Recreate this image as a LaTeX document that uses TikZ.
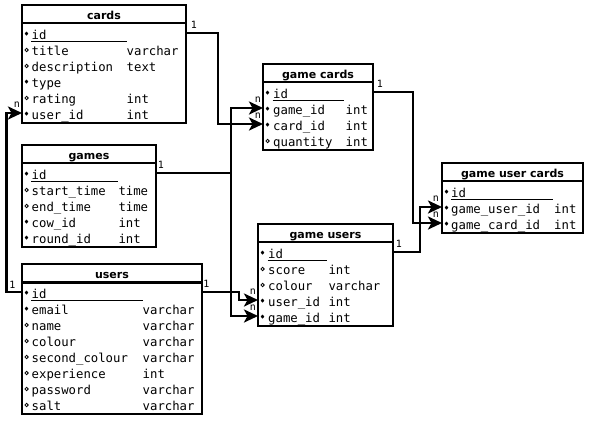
\documentclass[tikz,border=0pt]{standalone}
\usepackage{fontspec}
\usetikzlibrary{arrows.meta}
\newfontfamily\monof{DejaVu Sans Mono}
\newfontfamily\ttlfont{DejaVu Sans}
\tikzset{
  tbl/.style={draw, line width=2.6pt, anchor=north west, inner sep=0pt, outer sep=0pt},
  sepline/.style={line width=2.2pt},
  uline/.style={line width=1.4pt},
  fld/.style={font=\monof\fontsize{12.3}{14}\selectfont, anchor=base west, inner sep=0pt},
  ttl/.style={font=\ttlfont\bfseries\fontsize{11}{12}\selectfont, anchor=base, inner sep=0pt},
  card/.style={font=\monof\fontsize{10}{11}\selectfont, inner sep=0pt},
  conn/.style={line width=2.6pt},
  arr/.style={conn, -{Stealth[length=14pt,width=13pt,inset=3.5pt]}},
}
% #1 name, #2 k/o, #3 left x, #4 line y, #5 name x, #6 field, #7 type x, #8 type
\newcommand\erfield[8]{%
  \ifx k#2\relax
    \fill (#3+4.5,#4+0.6) +(0,-2.1) -- +(1.8,0) -- +(0,2.1) -- +(-1.8,0) -- cycle;
  \else
    \draw[line width=0.8pt] (#3+4.6,#4+1) circle (1.7);
  \fi
  \node[fld] (#1) at (#5,#4+6) {#6};
  \if\relax\detokenize{#8}\relax\else
    \node[fld] (#1-t) at (#7,#4+6) {#8};
  \fi
}
\begin{document}
\begin{tikzpicture}[x=1pt,y=-1pt]
\useasboundingbox (0,0) rectangle (592,421);
\fill[white] (0,0) rectangle (592,421);

% ---------- cards ----------
\node[tbl, minimum width=164pt, minimum height=118pt] (cards) at (22,5) {};
\draw[sepline] (22,23) -- (186,23);
\node[ttl] (cards-title) at (104,19.5) {cards};
\erfield{cards-id}{k}{22}{33}{31.5}{id}{126.5}{}
\draw[uline] (31,41.5) -- (126.5,41.5);
\erfield{cards-ti}{o}{22}{49}{31.5}{title}{126.5}{varchar}
\erfield{cards-de}{o}{22}{65}{31.5}{description}{126.5}{text}
\erfield{cards-ty}{k}{22}{81}{31.5}{type}{126.5}{}
\erfield{cards-ra}{o}{22}{97}{31.5}{rating}{126.5}{int}
\erfield{cards-us}{k}{22}{113}{31.5}{user\_id}{126.5}{int}
\coordinate (cards-id-R) at (186,33);
\coordinate (cards-user-L) at (22,113);

% ---------- games ----------
\node[tbl, minimum width=134pt, minimum height=102pt] (games) at (22,145) {};
\draw[sepline] (22,163) -- (156,163);
\node[ttl] (games-title) at (89,159.5) {games};
\erfield{games-id}{k}{22}{173}{31.5}{id}{118.3}{}
\draw[uline] (31,181.5) -- (118.3,181.5);
\erfield{games-st}{o}{22}{189}{31.5}{start\_time}{118.3}{time}
\erfield{games-en}{o}{22}{205}{31.5}{end\_time}{118.3}{time}
\erfield{games-co}{k}{22}{221}{31.5}{cow\_id}{118.3}{int}
\erfield{games-ro}{k}{22}{237}{31.5}{round\_id}{118.3}{int}
\coordinate (games-id-R) at (156,173);

% ---------- users ----------
\node[tbl, minimum width=180pt, minimum height=150pt] (users) at (22,264) {};
\draw[sepline] (22,282.5) -- (202,282.5);
\node[ttl] (users-title) at (112,278.5) {users};
\erfield{users-id}{k}{22}{292}{31.5}{id}{142.5}{}
\draw[uline] (31,300.5) -- (142.5,300.5);
\erfield{users-em}{k}{22}{308}{31.5}{email}{142.5}{varchar}
\erfield{users-na}{o}{22}{324}{31.5}{name}{142.5}{varchar}
\erfield{users-co}{o}{22}{340}{31.5}{colour}{142.5}{varchar}
\erfield{users-sc}{o}{22}{356}{31.5}{second\_colour}{142.5}{varchar}
\erfield{users-ex}{o}{22}{372}{31.5}{experience}{142.5}{int}
\erfield{users-pa}{o}{22}{388}{31.5}{password}{142.5}{varchar}
\erfield{users-sa}{o}{22}{404}{31.5}{salt}{142.5}{varchar}
\coordinate (users-id-R) at (202,292);
\coordinate (users-id-L) at (22,292);

% ---------- game cards ----------
\node[tbl, minimum width=110pt, minimum height=86pt] (gc) at (263,64) {};
\draw[sepline] (263,82) -- (373,82);
\node[ttl] (gc-title) at (318,78.5) {game cards};
\erfield{gc-id}{k}{263}{92}{273}{id}{345.5}{}
\draw[uline] (272.5,100.5) -- (344,100.5);
\erfield{gc-ga}{k}{263}{108}{273}{game\_id}{345.5}{int}
\erfield{gc-ca}{k}{263}{124}{273}{card\_id}{345.5}{int}
\erfield{gc-qu}{o}{263}{140}{273}{quantity}{345.5}{int}
\coordinate (gc-id-R) at (373,92);
\coordinate (gc-game-L) at (263,108);
\coordinate (gc-card-L) at (263,124);

% ---------- game users ----------
\node[tbl, minimum width=135pt, minimum height=102pt] (gu) at (258,224) {};
\draw[sepline] (258,242) -- (393,242);
\node[ttl] (gu-title) at (325.5,238.5) {game users};
\erfield{gu-id}{k}{258}{252}{268}{id}{328.3}{}
\draw[uline] (267.5,260.5) -- (327,260.5);
\erfield{gu-sc}{o}{258}{268}{268}{score}{328.3}{int}
\erfield{gu-co}{o}{258}{284}{268}{colour}{328.3}{varchar}
\erfield{gu-us}{k}{258}{300}{268}{user\_id}{328.3}{int}
\erfield{gu-ga}{k}{258}{316}{268}{game\_id}{328.3}{int}
\coordinate (gu-id-R) at (393,252);
\coordinate (gu-user-L) at (258,300);
\coordinate (gu-game-L) at (258,316);

% ---------- game user cards ----------
\node[tbl, minimum width=141pt, minimum height=70pt] (guc) at (442,163) {};
\draw[sepline] (442,181) -- (583,181);
\node[ttl] (guc-title) at (512.5,177.5) {game user cards};
\erfield{guc-id}{k}{442}{191}{451}{id}{554}{}
\draw[uline] (450.5,199.5) -- (553,199.5);
\erfield{guc-us}{k}{442}{207}{451}{game\_user\_id}{554}{int}
\erfield{guc-ca}{k}{442}{223}{451}{game\_card\_id}{554}{int}
\coordinate (guc-user-L) at (442,207);
\coordinate (guc-card-L) at (442,223);

% ---------- cardinality labels ----------
\node[card] (l1a) at (194,25) {1};
\node[card] (l1b) at (161,165) {1};
\node[card] (l1c) at (206.5,284) {1};
\node[card] (l1d) at (12.5,285) {1};
\node[card] (l1e) at (380,84) {1};
\node[card] (l1f) at (399,244) {1};
\node[card] (lna) at (17,104.5) {n};
\node[card] (lnb) at (258,99.5) {n};
\node[card] (lnc) at (258,115.5) {n};
\node[card] (lnd) at (253,291.5) {n};
\node[card] (lne) at (253,307.5) {n};
\node[card] (lnf) at (436,198.5) {n};
\node[card] (lng) at (436,214.5) {n};

% ---------- connectors ----------
\draw[arr] (cards-id-R) -- ++(32,0) |- (gc-card-L);
\draw[arr] (games-id-R) -- ++(75,0) |- (gc-game-L);
\draw[arr] (games-id-R) -- ++(75,0) |- (gu-game-L);
\draw[arr] (users-id-R) -- ++(37,0) |- (gu-user-L);
\draw[arr] (users-id-L) -- ++(-15.5,0) |- (cards-user-L);
\draw[arr] (gc-id-R) -- ++(40,0) |- (guc-card-L);
\draw[arr] (gu-id-R) -- ++(27,0) |- (guc-user-L);
\end{tikzpicture}
\end{document}
